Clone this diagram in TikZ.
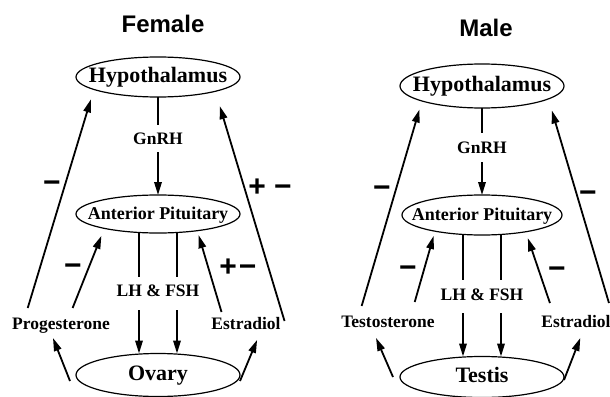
\documentclass[tikz,border=0pt]{standalone}
\usepackage{fontspec}
\setmainfont{Liberation Serif}
\newfontfamily\headfont{Liberation Sans}
\usepackage{tikz}
\usetikzlibrary{positioning, arrows.meta, shapes.geometric}
\newcommand{\inside}[1]{\makebox[0pt]{#1}}
\tikzset{
  organ/.style={draw, ellipse, line width=1.2pt, inner sep=0pt, outer sep=0pt, text height=14pt, text depth=4pt, font=\bfseries\fontsize{22}{26}\selectfont},
  hormone/.style={inner sep=0pt, outer sep=0pt, text height=12pt, text depth=4pt, font=\bfseries\fontsize{17.5}{20}\selectfont},
  sign/.style={inner sep=0pt, text height=18pt, text depth=0pt, font=\headfont\bfseries\fontsize{30}{32}\selectfont},
  sextitle/.style={font=\headfont\bfseries\fontsize{24}{28}\selectfont},
  conn/.style={line width=1.4pt},
  arr/.style={line width=1.8pt, -{Triangle[length=13pt, width=7.5pt]}}
}

\begin{document}
\begin{tikzpicture}[x=1pt, y=-1pt]
\useasboundingbox (0,0) rectangle (610,396);
\node[sextitle] (femT) at (163,24) {Female};
\node[organ, minimum width=164pt, minimum height=40pt] (hypF) at (158,77) {\inside{Hypothalamus}};
\node[hormone] (gnrhF) at (158,140) {GnRH};
\node[organ, minimum width=164pt, minimum height=38pt, font=\bfseries\fontsize{18}{22}\selectfont] (apF) at (158,214) {\inside{Anterior Pituitary}};
\node[hormone] (lhF) at (158,292) {LH \& FSH};
\node[organ, minimum width=164pt, minimum height=43pt] (ovF) at (158,375) {\inside{Ovary}};
\node[hormone] (prgF) at (61,325) {Progesterone};
\node[hormone] (estF) at (246,325) {Estradiol};
\node[sign] (sF1) at (52,183) {−};
\node[sign] (sF2) at (73,266) {−};
\node[sign] (sF3) at (238,267) {+\kern2pt−};
\node[sign] (sF4) at (270,187) {+ −};

\node[sextitle] (malT) at (486,28) {Male};
\node[organ, minimum width=164pt, minimum height=44pt] (hypM) at (482,86) {\inside{Hypothalamus}};
\node[hormone] (gnrhM) at (482,149) {GnRH};
\node[organ, minimum width=160pt, minimum height=40pt, font=\bfseries\fontsize{18}{22}\selectfont] (apM) at (482,215) {\inside{Anterior Pituitary}};
\node[hormone] (lhM) at (482,296) {LH \& FSH};
\node[organ, minimum width=164pt, minimum height=41pt] (teM) at (482,377) {\inside{Testis}};
\node[hormone] (tstM) at (388,323) {Testosterone};
\node[hormone] (estM) at (576,323) {Estradiol};
\node[sign] (sM1) at (382,188) {−};
\node[sign] (sM2) at (408,268) {−};
\node[sign] (sM3) at (557,269) {−};
\node[sign] (sM4) at (588,193) {−};

\draw[conn, shorten >=7pt] (hypF.south) -- (gnrhF.north);
\draw[arr, shorten <=4pt] (gnrhF.south) -- (apF.north);
\draw[conn, shorten >=8pt] (hypM.south) -- (gnrhM.north);
\draw[arr, shorten <=5pt] (gnrhM.south) -- (apM.north);
\foreach \dx in {-19,19} {
  \draw[conn, shorten >=7pt] ([xshift=\dx pt]apF.south) -- ([xshift=\dx pt]lhF.north);
  \draw[arr, shorten <=10pt] ([xshift=\dx pt]lhF.south) -- ([xshift=\dx pt]ovF.north);
  \draw[conn, shorten >=8pt] ([xshift=\dx pt]apM.south) -- ([xshift=\dx pt]lhM.north);
  \draw[arr, shorten <=9pt] ([xshift=\dx pt]lhM.south) -- ([xshift=\dx pt]teM.north);
}

\draw[arr, shorten <=9.4pt, shorten >=10.4pt] ([xshift=-36pt]prgF.north) -- (hypF.191.8);
\draw[arr, shorten <=9.7pt, shorten >=8.1pt] ([xshift=8pt]prgF.north) -- (apF.195.3);
\draw[arr, shorten <=5.2pt, shorten >=4.7pt] ([xshift=-23pt]estF.north) -- (apF.337.9);
\draw[arr, shorten >=15.5pt] ([xshift=4pt, yshift=4pt]estF.east) -- (hypF.346.2);
\draw[arr, shorten >=5.4pt] ([shift={(-6pt,-6pt)}]ovF.west) -- ([xshift=-10pt]prgF.south);
\draw[arr, shorten >=7.5pt] ([yshift=-6pt]ovF.east) -- ([xshift=14pt]estF.south);

\draw[arr, shorten <=9.4pt, shorten >=8.9pt] ([xshift=-29pt]tstM.north) -- (hypM.194.9);
\draw[arr, shorten <=13.5pt, shorten >=5pt] ([xshift=23pt]tstM.north) -- (apM.199.2);
\draw[arr, shorten <=12.6pt, shorten >=6.8pt] ([xshift=-22pt]estM.north) -- (apM.339.8);
\draw[arr, shorten <=12.5pt, shorten >=12.1pt] ([xshift=2pt]estM.north east) -- (hypM.349.6);
\draw[arr, shorten >=7.6pt] ([xshift=-7pt]teM.west) -- ([xshift=-15pt]tstM.south);
\draw[arr, shorten >=7.5pt] ([yshift=-3pt]teM.east) -- ([xshift=7pt]estM.south);
\end{tikzpicture}
\end{document}
